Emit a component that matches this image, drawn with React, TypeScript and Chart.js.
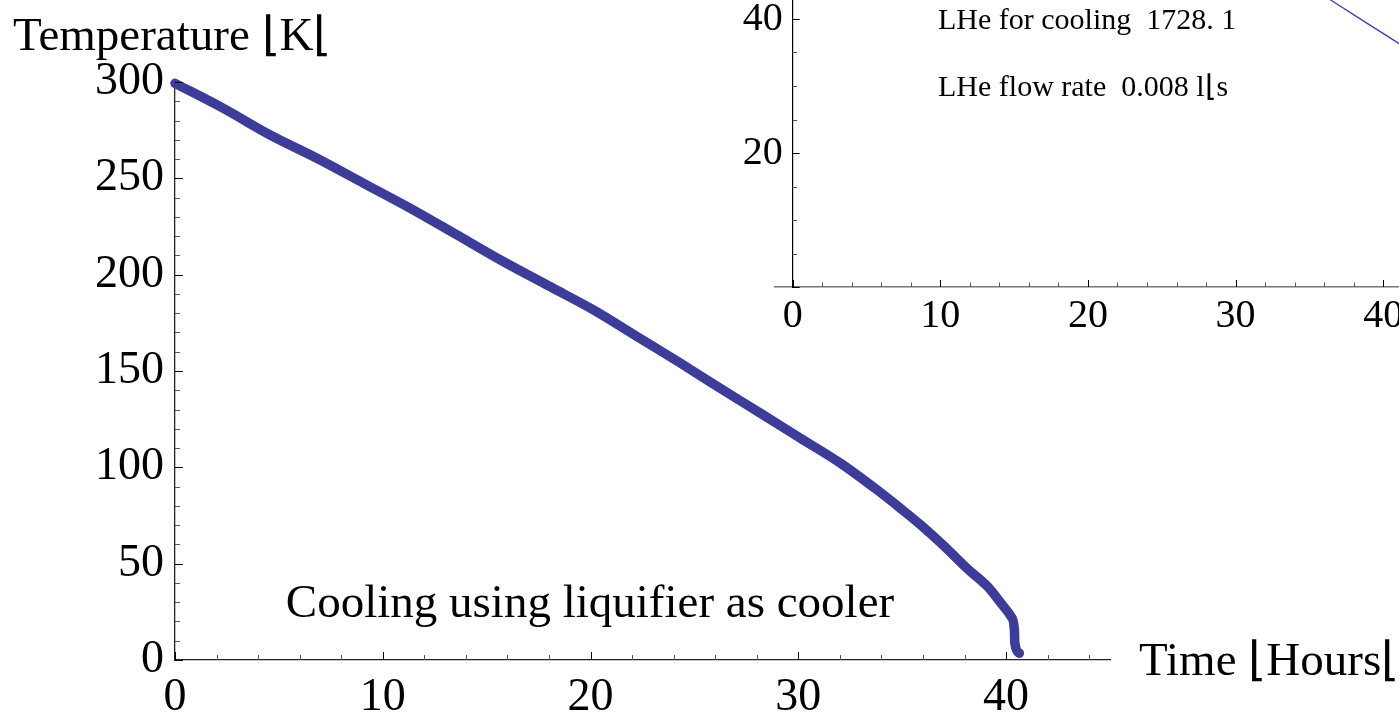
import { useEffect, useRef } from "react";
import { Chart, registerables } from "chart.js";

Chart.register(...registerables);

const SERIF = "'Liberation Serif', 'Times New Roman', Times, serif";
const CURVE_COLOR = "rgb(61,61,153)";
const INSET_COLOR = "rgb(64,64,175)";

// ---- main curve: cooling with liquifier as cooler ----
const timeHours = [
  0, 2.33, 4.58, 6.83, 9.08, 11.33, 13.57, 15.82, 18.07, 20.16, 22.25, 24.34,
  26.24, 28.19, 30.1, 32.05, 33.8, 34.94, 35.9, 37.0, 38.15, 39.12, 39.76,
  40.24, 40.4, 40.42, 40.64,
];
const temperatureK = [
  299.3, 286.3, 272.5, 260.4, 247.4, 234.4, 220.6, 206.7, 193.7, 181.6, 167.8,
  154, 141, 128, 115.1, 102, 88.2, 78.5, 70.0, 59.3, 47.2, 38, 29.4, 22.5,
  15.6, 8.7, 3.5,
];

// ---- inset curve ----
const insetTimeHours = [33.5, 36.47, 38.73, 41.03, 42.5];
const insetTemperatureK = [47.0, 42.8, 39.6, 36.4, 34.3];

// ---- tick labels ----
const xTickLabels = [0, 10, 20, 30, 40];
const yTickLabels = [0, 50, 100, 150, 200, 250, 300];
const insetXTickLabels = [0, 10, 20, 30, 40];
const insetYTickLabels = [20, 40, 60];

// ---- texts ----
const yAxisTitle = "Temperature \u230AK\u230A";
const xAxisTitle = "Time \u230AHours\u230A";
const annotationText = "Cooling using liquifier as cooler";
const insetTexts = ["LHe for cooling  1728. 1", "LHe flow rate  0.008 l\u230As"];

const INSET_LEFT = 600;
const INSET_TOP = -200;
const INSET_W = 900;
const INSET_H = 600;

const near = (v: number, list: number[]) => list.some((t) => Math.abs(t - v) < 1e-6);

function tickPlugin(id: string, opts: any) {
  return {
    id,
    afterDraw(chart: any) {
      const { ctx } = chart;
      const xs = chart.scales.x;
      const ys = chart.scales.y;
      const axisY = ys.getPixelForValue(opts.xAxisAt);
      const axisX = xs.getPixelForValue(opts.yAxisAt);
      ctx.save();
      ctx.lineWidth = 1;
      for (const t of xs.ticks) {
        const v = t.value;
        if (v < xs.min - 1e-9 || v > xs.max + 1e-9) continue;
        if (v < opts.xTickFrom) continue;
        const major = Math.abs(v % opts.xMajor) < 1e-6;
        const len = major ? opts.majorLen : opts.minorLen;
        const px = Math.round(xs.getPixelForValue(v)) + 0.5;
        ctx.strokeStyle = major ? "#000" : "#555";
        ctx.beginPath();
        ctx.moveTo(px, axisY);
        ctx.lineTo(px, axisY - len);
        ctx.stroke();
      }
      for (const t of ys.ticks) {
        const v = t.value;
        if (v < ys.min - 1e-9 || v > ys.max + 1e-9) continue;
        const major = Math.abs(v % opts.yMajor) < 1e-6;
        const len = major ? opts.majorLen : opts.minorLen;
        const py = Math.round(ys.getPixelForValue(v)) + 0.5;
        ctx.strokeStyle = major ? "#000" : "#555";
        ctx.beginPath();
        ctx.moveTo(axisX, py);
        ctx.lineTo(axisX + len, py);
        ctx.stroke();
      }
      ctx.restore();
    },
  };
}

const mainTextPlugin = {
  id: "mainText",
  afterDraw(chart: any) {
    const { ctx } = chart;
    ctx.save();
    ctx.fillStyle = "#000";
    ctx.textBaseline = "alphabetic";
    ctx.textAlign = "left";
    ctx.font = `47px ${SERIF}`;
    ctx.fillText(yAxisTitle, 13, 50);
    ctx.fillText(xAxisTitle, 1139, 675);
    ctx.textAlign = "center";
    ctx.fillText(annotationText, 590, 617);
    ctx.restore();
  },
};

const insetTextPlugin = {
  id: "insetText",
  afterDraw(chart: any) {
    const { ctx } = chart;
    ctx.save();
    ctx.fillStyle = "#000";
    ctx.textBaseline = "alphabetic";
    ctx.textAlign = "left";
    ctx.font = `30px ${SERIF}`;
    ctx.fillText(insetTexts[0], 938 - INSET_LEFT, 29 - INSET_TOP);
    ctx.fillText(insetTexts[1], 938 - INSET_LEFT, 96 - INSET_TOP);
    ctx.restore();
  },
};

export default function App() {
  const mainRef = useRef<HTMLCanvasElement>(null);
  const insetRef = useRef<HTMLCanvasElement>(null);

  useEffect(() => {
    const mainData = timeHours.map((x, i) => ({ x, y: temperatureK[i] }));
    const insetData = insetTimeHours.map((x, i) => ({ x, y: insetTemperatureK[i] }));

    const main = new Chart(mainRef.current!, {
      type: "scatter",
      data: {
        datasets: [
          {
            data: mainData,
            showLine: true,
            borderColor: CURVE_COLOR,
            backgroundColor: CURVE_COLOR,
            borderWidth: 9.5,
            borderCapStyle: "round",
            borderJoinStyle: "round",
            pointRadius: 0,
            cubicInterpolationMode: "monotone",
            clip: false,
          } as any,
        ],
      },
      options: {
        animation: false,
        responsive: false,
        devicePixelRatio: 1,
        events: [],
        layout: { padding: { left: 0, top: 82, right: 289, bottom: 0 } },
        plugins: { legend: { display: false }, tooltip: { enabled: false } },
        scales: {
          x: {
            type: "linear",
            position: "bottom",
            min: 0,
            max: 45,
            grid: { display: false, drawTicks: false },
            border: { display: true, color: "#222", width: 1.3 },
            ticks: {
              stepSize: 2,
              includeBounds: false,
              autoSkip: false,
              maxRotation: 0,
              padding: 10,
              color: "#000",
              font: { family: SERIF, size: 46 },
              callback: (v: any) => (near(Number(v), xTickLabels) ? String(v) : ""),
            },
            afterFit: (s: any) => {
              s.height = 53;
            },
          },
          y: {
            type: "linear",
            position: "left",
            min: 0,
            max: 300,
            grid: { display: false, drawTicks: false },
            border: { display: true, color: "#222", width: 1.3 },
            ticks: {
              stepSize: 10,
              includeBounds: false,
              autoSkip: false,
              padding: 11,
              color: "#000",
              font: { family: SERIF, size: 46 },
              callback: (v: any) => (near(Number(v), yTickLabels) ? String(v) : ""),
            },
            afterFit: (s: any) => {
              s.width = 175;
            },
          },
        },
      },
      plugins: [
        tickPlugin("mainTicks", {
          xAxisAt: 0,
          yAxisAt: 0,
          xMajor: 10,
          yMajor: 50,
          majorLen: 8,
          minorLen: 5,
          xTickFrom: 0,
        }),
        mainTextPlugin,
      ],
    } as any);

    const inset = new Chart(insetRef.current!, {
      type: "scatter",
      data: {
        datasets: [
          {
            data: insetData,
            showLine: true,
            borderColor: INSET_COLOR,
            borderWidth: 1.4,
            pointRadius: 0,
            clip: false,
          } as any,
        ],
      },
      options: {
        animation: false,
        responsive: false,
        devicePixelRatio: 1,
        events: [],
        layout: { padding: { left: 175, top: 85, right: 43, bottom: 53 } },
        plugins: { legend: { display: false }, tooltip: { enabled: false } },
        scales: {
          x: {
            type: "linear",
            position: "bottom",
            min: -1.2,
            max: 45,
            grid: { display: false, drawTicks: false },
            border: { display: true, color: "#777", width: 1.6 },
            ticks: {
              stepSize: 2,
              includeBounds: false,
              autoSkip: false,
              maxRotation: 0,
              padding: 5,
              color: "#000",
              font: { family: SERIF, size: 40 },
              callback: (v: any) => (near(Number(v), insetXTickLabels) ? String(v) : ""),
            },
            afterFit: (s: any) => {
              s.height = 60;
            },
          },
          y: {
            type: "linear",
            position: { x: 0 },
            min: 0,
            max: 60,
            grid: { display: false, drawTicks: false },
            border: { display: true, color: "#000", width: 1.2 },
            ticks: {
              stepSize: 5,
              includeBounds: false,
              autoSkip: false,
              padding: 10,
              color: "#000",
              font: { family: SERIF, size: 40 },
              // positioned axes ignore padding; a trailing space keeps the gap
              callback: (v: any) => (near(Number(v), insetYTickLabels) ? String(v) + " " : ""),
            },
          },
        },
      },
      plugins: [
        tickPlugin("insetTicks", {
          xAxisAt: 0,
          yAxisAt: 0,
          xMajor: 10,
          yMajor: 20,
          majorLen: 7,
          minorLen: 4.5,
          xTickFrom: 0,
        }),
        insetTextPlugin,
      ],
    } as any);

    return () => {
      main.destroy();
      inset.destroy();
    };
  }, []);

  return (
    <div
      style={{
        position: "fixed",
        left: 0,
        top: 0,
        width: 1399,
        height: 713,
        overflow: "hidden",
        background: "#fff",
      }}
    >
      <canvas
        ref={mainRef}
        width={1399}
        height={713}
        style={{ position: "absolute", left: 0, top: 0, width: 1399, height: 713 }}
      />
      <canvas
        ref={insetRef}
        width={INSET_W}
        height={INSET_H}
        style={{
          position: "absolute",
          left: INSET_LEFT,
          top: INSET_TOP,
          width: INSET_W,
          height: INSET_H,
        }}
      />
    </div>
  );
}
